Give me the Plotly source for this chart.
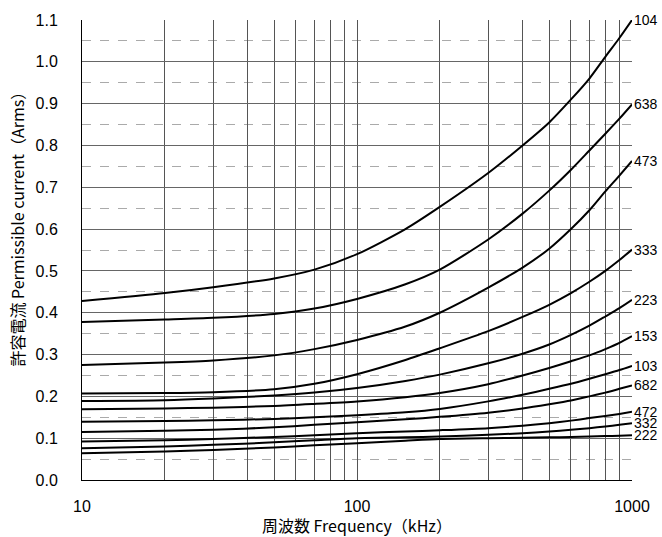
import math
import plotly.graph_objects as go

freq = [10, 20, 30, 50, 70, 100, 150, 200, 300, 400, 500, 600, 700, 800, 900, 1000]

c104 = [0.428, 0.447, 0.461, 0.482, 0.503, 0.540, 0.600, 0.653, 0.734, 0.800, 0.855, 0.910, 0.960, 1.012, 1.057, 1.100]
c638 = [0.378, 0.384, 0.388, 0.397, 0.410, 0.433, 0.468, 0.503, 0.575, 0.637, 0.692, 0.742, 0.788, 0.828, 0.864, 0.898]
c473 = [0.275, 0.281, 0.286, 0.298, 0.313, 0.335, 0.367, 0.400, 0.460, 0.508, 0.553, 0.600, 0.645, 0.690, 0.728, 0.763]
c333 = [0.207, 0.208, 0.210, 0.217, 0.230, 0.253, 0.287, 0.315, 0.356, 0.390, 0.419, 0.447, 0.474, 0.500, 0.526, 0.551]
c223 = [0.189, 0.191, 0.195, 0.202, 0.209, 0.220, 0.237, 0.252, 0.279, 0.302, 0.324, 0.347, 0.369, 0.391, 0.411, 0.431]
c153 = [0.169, 0.171, 0.173, 0.177, 0.182, 0.188, 0.198, 0.208, 0.229, 0.250, 0.268, 0.284, 0.298, 0.313, 0.328, 0.344]
c103 = [0.139, 0.141, 0.143, 0.146, 0.150, 0.155, 0.162, 0.170, 0.188, 0.204, 0.218, 0.230, 0.242, 0.253, 0.263, 0.273]
c682 = [0.115, 0.118, 0.120, 0.126, 0.132, 0.138, 0.145, 0.151, 0.161, 0.171, 0.181, 0.190, 0.200, 0.209, 0.218, 0.226]
c472 = [0.092, 0.095, 0.098, 0.103, 0.107, 0.112, 0.116, 0.119, 0.124, 0.130, 0.136, 0.142, 0.148, 0.153, 0.158, 0.163]
c332 = [0.076, 0.080, 0.084, 0.090, 0.095, 0.100, 0.102, 0.104, 0.108, 0.112, 0.116, 0.120, 0.124, 0.128, 0.132, 0.136]
c222 = [0.064, 0.068, 0.072, 0.078, 0.083, 0.088, 0.094, 0.098, 0.100, 0.101, 0.102, 0.103, 0.104, 0.105, 0.106, 0.107]

series_names = ["104", "638", "473", "333", "223", "153", "103", "682", "472", "332", "222"]
series_values = [c104, c638, c473, c333, c223, c153, c103, c682, c472, c332, c222]

x_tickvals = [10, 20, 30, 40, 50, 60, 70, 80, 90, 100, 200, 300, 400, 500, 600, 700, 800, 900, 1000]
x_ticktext = ["10", "", "", "", "", "", "", "", "", "100", "", "", "", "", "", "", "", "", "1000"]

fig = go.Figure()
for name, vals in zip(series_names, series_values):
    fig.add_trace(go.Scatter(x=freq, y=vals, mode="lines", name=name,
                             line=dict(color="black", width=2, shape="spline", smoothing=0.7),
                             showlegend=False, hoverinfo="skip"))

annotations = []
for name, vals in zip(series_names, series_values):
    annotations.append(dict(x=math.log10(freq[-1]), y=vals[-1], xref="x", yref="y",
                            text=name, showarrow=False, xanchor="left", yanchor="middle",
                            xshift=0, font=dict(family="Liberation Sans, Arial", size=14, color="black")))

annotations.append(dict(x=0.5, y=0, xref="paper", yref="paper", text="周波数 Frequency（kHz）",
                        showarrow=False, xanchor="center", yanchor="middle", yshift=-45,
                        font=dict(family="Noto Sans CJK JP", size=16, color="black")))
annotations.append(dict(x=0, y=0.553, xref="paper", yref="paper", text="許容電流 Permissible current（Arms）",
                        showarrow=False, xanchor="center", yanchor="middle", xshift=-65, textangle=-90,
                        font=dict(family="Noto Sans CJK JP", size=16, color="black")))

fig.update_layout(
    width=662, height=537,
    margin=dict(l=82, r=26, t=17, b=57),
    paper_bgcolor="white", plot_bgcolor="white",
    annotations=annotations,
    xaxis=dict(type="log", range=[1, 3], tickmode="array", tickvals=x_tickvals, ticktext=x_ticktext,
               showgrid=True, gridcolor="#555555", gridwidth=1,
               showline=True, linecolor="black", linewidth=1, ticks="", ticklabelstandoff=12,
               tickfont=dict(family="Liberation Sans, Arial", size=16, color="black"), zeroline=False),
    yaxis=dict(range=[0, 1.1], dtick=0.1, tick0=0, tickformat=".1f",
               showgrid=True, gridcolor="#666666", gridwidth=1,
               minor=dict(dtick=0.05, showgrid=True, griddash="dash", gridcolor="#aaaaaa", gridwidth=1),
               showline=True, linecolor="black", linewidth=1, ticks="", ticklabelstandoff=20,
               tickfont=dict(family="Liberation Sans, Arial", size=16, color="black"), zeroline=False),
)

fig.write_html("out.html", config={"displayModeBar": False},
               post_script="document.body.style.margin='0';document.body.style.overflow='hidden';")
